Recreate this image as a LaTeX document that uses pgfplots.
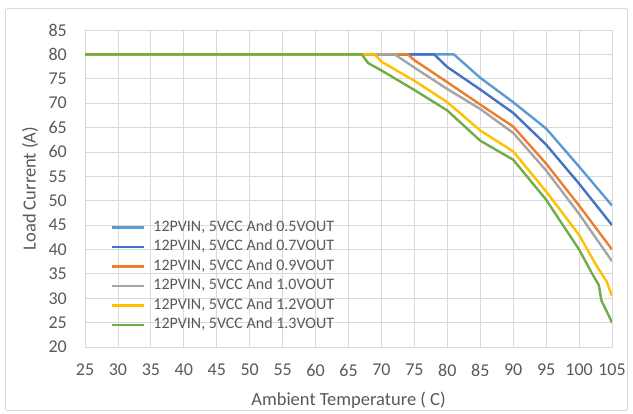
\documentclass[border=0pt]{standalone}
\usepackage{fontspec}
\setmainfont{Carlito}
\usepackage{pgfplots}
\pgfplotsset{compat=1.18}
\definecolor{cA}{HTML}{5B9BD5}
\definecolor{cB}{HTML}{4472C4}
\definecolor{cC}{HTML}{ED7D31}
\definecolor{cD}{HTML}{A5A5A5}
\definecolor{cE}{HTML}{FFC000}
\definecolor{cF}{HTML}{70AD47}
\definecolor{txt}{HTML}{595959}
\definecolor{gridc}{HTML}{D9D9D9}
\begin{document}
\begin{tikzpicture}
\useasboundingbox (0bp,0bp) rectangle (633bp,414bp);
\draw[gridc, line width=0.8bp, rounded corners=2bp] (5.5bp,3.5bp) rectangle (627.5bp,405.5bp);
\begin{axis}[
  at={(85bp,67bp)}, anchor=south west,
  scale only axis, width=527bp, height=317bp,
  xmin=25, xmax=105, ymin=20, ymax=85,
  xtick={25,30,...,105}, ytick={20,25,...,85},
  major tick length=0pt,
  grid=major, grid style={gridc, line width=0.8bp},
  axis line style={gridc, line width=0.8bp},
  /pgf/number format/assume math mode=true,
  tick label style={font=\fontsize{18bp}{21bp}\selectfont, text=txt},
  xticklabel style={anchor=center, yshift=-23bp},
  yticklabel style={anchor=east, inner sep=0pt, xshift=-18bp},
  label style={font=\fontsize{18.5bp}{22bp}\selectfont, text=txt},
  xlabel={Ambient Temperature ( C)},
  ylabel={Load Current (A)},
  xlabel style={at={(axis description cs:0.5,-0.167)}, anchor=center},
  ylabel style={at={(axis description cs:-0.104,0.5)}, anchor=center},
  legend cell align=left,
  legend style={at={(0.049,0.40)}, anchor=north west, draw=none, fill=none,
    inner sep=0pt, font=\fontsize{16bp}{19bp}\selectfont, text=txt,
    row sep=5.5bp, column sep=8bp,
    nodes={inner sep=0pt, text height=11bp, text depth=3bp}},
  legend image code/.code={\draw[#1] (0bp,0bp) -- (32bp,0bp);},
  every axis plot/.append style={line width=2.4bp, no markers, line join=round},
]
\addplot[cA] coordinates {(25,80)(81,80)(85,75.2)(90,70.2)(95,64.8)(100,57)(105,49)};
\addlegendentry{12PVIN, 5VCC And 0.5VOUT}
\addplot[cB] coordinates {(25,80)(78,80)(80,77.4)(85,72.8)(90,68)(95,61.5)(100,53.5)(105,45)};
\addlegendentry{12PVIN, 5VCC And 0.7VOUT}
\addplot[cC] coordinates {(25,80)(74,80)(75,78.8)(80,74.3)(85,69.7)(90,65.2)(95,57.6)(100,49)(105,40)};
\addlegendentry{12PVIN, 5VCC And 0.9VOUT}
\addplot[cD] coordinates {(25,80)(72,80)(75,77.3)(80,72.9)(85,68.8)(90,63.9)(95,56.2)(100,47.3)(105,37.6)};
\addlegendentry{12PVIN, 5VCC And 1.0VOUT}
\addplot[cE] coordinates {(25,80)(69,80)(70,78.5)(75,74.6)(80,70.2)(85,64.4)(90,60.1)(95,51.9)(100,43)(102.5,37)(104.2,33.4)(105,30.5)};
\addlegendentry{12PVIN, 5VCC And 1.2VOUT}
\addplot[cF] coordinates {(25,80)(67,80)(68,78.2)(70,76.7)(75,72.7)(80,68.5)(85,62.3)(90,58.4)(95,50.2)(100,40)(102,35)(103,32.7)(103.4,29.5)(104.2,27.3)(105,25)};
\addlegendentry{12PVIN, 5VCC And 1.3VOUT}
\end{axis}
\end{tikzpicture}
\end{document}
